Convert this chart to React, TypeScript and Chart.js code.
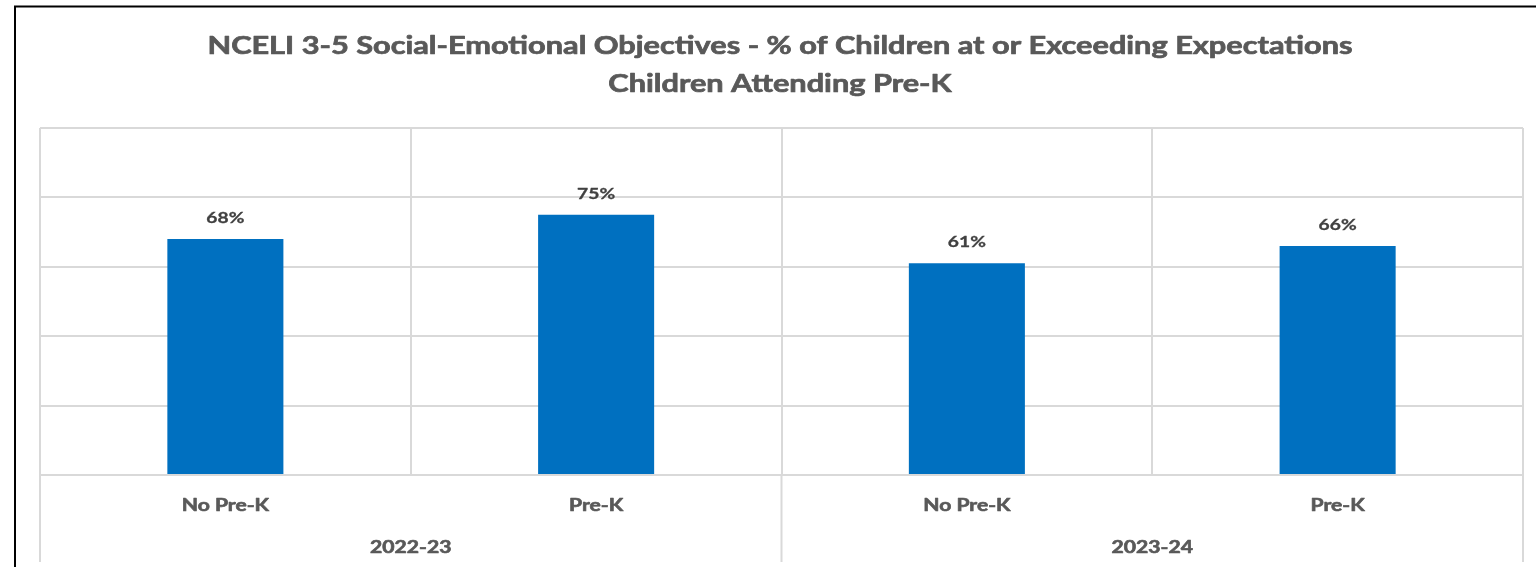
import React, { useEffect, useRef } from "react";
import { Chart, registerables } from "chart.js";

Chart.register(...registerables);

const titleLines = [
  "NCELI 3-5 Social-Emotional Objectives - % of Children at or Exceeding Expectations",
  "Children Attending Pre-K",
];
const categories = ["No Pre-K", "Pre-K", "No Pre-K", "Pre-K"];
const groups = ["2022-23", "2023-24"];
const groupSizes = [2, 2];
const values = [68, 75, 61, 66];
const yTicks = [0, 20, 40, 60, 80, 100];

const FONT = "Lato, 'Open Sans', sans-serif";
const SX = 1.28;

function stretchedText(
  ctx: CanvasRenderingContext2D,
  text: string,
  x: number,
  y: number,
  font: string,
  color: string,
  stroke = 0
) {
  ctx.save();
  ctx.font = font;
  ctx.fillStyle = color;
  ctx.strokeStyle = color;
  ctx.textAlign = "center";
  ctx.textBaseline = "alphabetic";
  ctx.translate(x, y);
  ctx.scale(SX, 1);
  ctx.fillText(text, 0, 0);
  if (stroke > 0) {
    ctx.lineWidth = stroke;
    ctx.lineJoin = "round";
    ctx.strokeText(text, 0, 0);
  }
  ctx.restore();
}

const decorPlugin = {
  id: "decor",
  afterDraw(chart: any) {
    const ctx: CanvasRenderingContext2D = chart.ctx;
    const area = chart.chartArea;
    const xs = chart.scales.x;
    const ys = chart.scales.y;
    // frame
    ctx.save();
    ctx.strokeStyle = "#000";
    ctx.lineWidth = 2;
    ctx.beginPath();
    ctx.moveTo(15, 600);
    ctx.lineTo(15, 6.5);
    ctx.lineTo(1540, 6.5);
    ctx.stroke();
    ctx.restore();
    // title
    stretchedText(ctx, titleLines[0], 780, 54, `bold 24px ${FONT}`, "#595959", 0.7);
    stretchedText(ctx, titleLines[1], 780, 92, `bold 24px ${FONT}`, "#595959", 0.7);
    // data labels
    const meta = chart.getDatasetMeta(0);
    meta.data.forEach((bar: any, i: number) => {
      stretchedText(ctx, values[i] + "%", bar.x, bar.y - 16, `bold 15px ${FONT}`, "#404040", 0.3);
    });
    // category labels
    categories.forEach((c, i) => {
      stretchedText(ctx, c, xs.getPixelForValue(i), 511, `bold 16.5px ${FONT}`, "#595959", 0.6);
    });
    // group labels and separators
    const step = (area.right - area.left) / categories.length;
    let start = 0;
    const seps: number[] = [area.left];
    groups.forEach((g, gi) => {
      const end = start + groupSizes[gi];
      const x0 = area.left + start * step;
      const x1 = area.left + end * step;
      stretchedText(ctx, g, (x0 + x1) / 2, 553, `bold 16.5px ${FONT}`, "#595959", 0.6);
      seps.push(x1);
      start = end;
    });
    ctx.save();
    ctx.strokeStyle = "#d9d9d9";
    ctx.lineWidth = 2;
    seps.forEach((x) => {
      ctx.beginPath();
      ctx.moveTo(x, ys.getPixelForValue(0));
      ctx.lineTo(x, 562);
      ctx.stroke();
    });
    ctx.restore();
  },
};

export default function App() {
  const ref = useRef<HTMLCanvasElement>(null);
  useEffect(() => {
    if (!ref.current) return;
    const chart = new Chart(ref.current, {
      type: "bar",
      data: {
        labels: categories,
        datasets: [
          {
            data: values,
            backgroundColor: "#0070C0",
            barPercentage: 0.313,
            categoryPercentage: 1,
          },
        ],
      },
      options: {
        responsive: false,
        animation: false,
        layout: { padding: { left: 40, right: 13, top: 128, bottom: 92 } },
        plugins: { legend: { display: false }, title: { display: false }, tooltip: { enabled: false } },
        scales: {
          x: {
            grid: { offset: true, color: "#d9d9d9", lineWidth: 2, drawTicks: false },
            border: { display: false },
            ticks: { display: false },
          },
          y: {
            min: 0,
            max: 100,
            afterBuildTicks: (axis: any) => {
              axis.ticks = yTicks.map((v) => ({ value: v }));
            },
            grid: { color: "#d9d9d9", lineWidth: 2, drawTicks: false },
            border: { display: false },
            ticks: { display: false },
          },
        },
      },
      plugins: [decorPlugin],
    });
    return () => chart.destroy();
  }, []);
  return (
    <div style={{ position: "fixed", left: 0, top: 0, width: 1536, height: 567, background: "#fff" }}>
      <canvas ref={ref} width={1536} height={567} style={{ display: "block" }} />
    </div>
  );
}
